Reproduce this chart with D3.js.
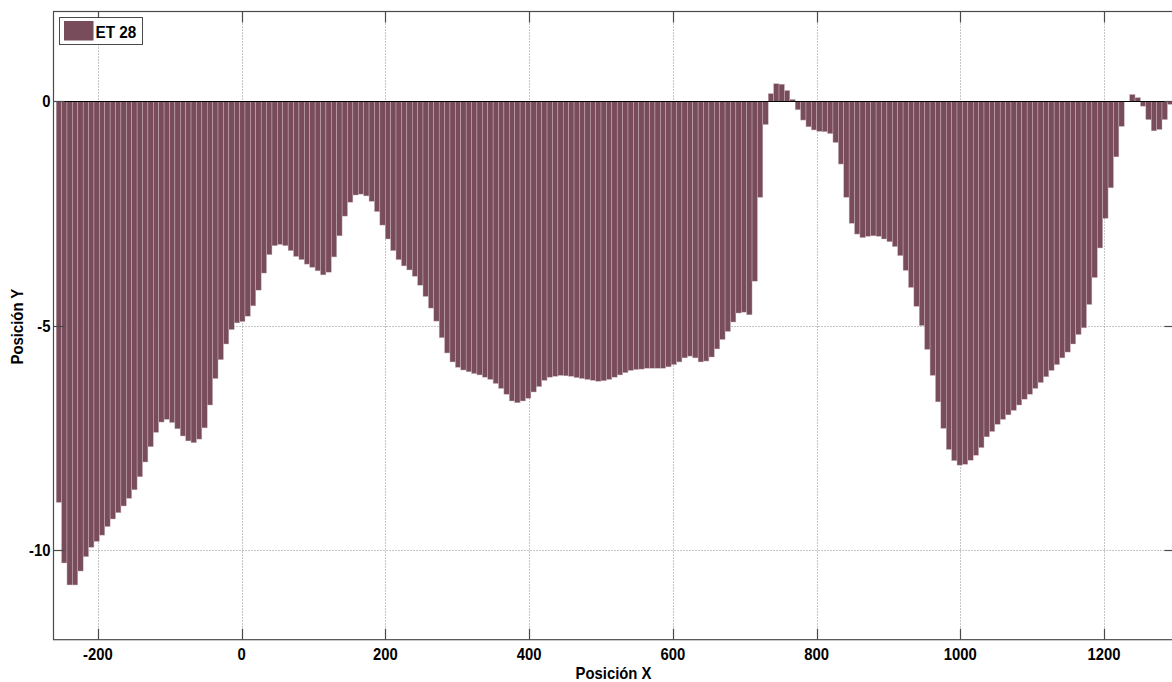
<!DOCTYPE html>
<html>
<head>
<meta charset="utf-8">
<script src="https://cdn.jsdelivr.net/npm/d3@7"></script>
<style>
  html, body { margin: 0; padding: 0; background: #fff; }
  svg { display: block; }
  text { font-family: "Liberation Sans", Arial, sans-serif; font-weight: bold; }
</style>
</head>
<body>
<svg id="chart" width="1172" height="682"></svg>
<script>
// ---- data ----
const seriesName = "ET 28";
const xStart = -254.25;      // position of first bar (Posición X)
const xStep = 7.506;         // sampling step along X
const yValues = [
  -8.94, -10.29, -10.78, -10.78, -10.47, -10.15, -9.94, -9.81, -9.67, -9.48,
  -9.31, -9.17, -9.02, -8.85, -8.66, -8.37, -8.04, -7.70, -7.38, -7.15,
  -7.09, -7.16, -7.30, -7.46, -7.57, -7.61, -7.53, -7.28, -6.77, -6.18,
  -5.76, -5.41, -5.09, -4.94, -4.91,
  -4.79, -4.56, -4.21, -3.83, -3.42, -3.22, -3.19, -3.22, -3.33, -3.46,
  -3.53, -3.63, -3.70, -3.78, -3.87, -3.81, -3.47, -3.00, -2.56, -2.25,
  -2.09, -2.07, -2.11, -2.23, -2.46, -2.76, -3.07, -3.33, -3.53, -3.67,
  -3.76, -3.90, -4.10, -4.35,
  -4.61, -4.90, -5.27, -5.61, -5.81, -5.93, -5.99, -6.03, -6.07, -6.10,
  -6.15, -6.20, -6.29, -6.40, -6.53, -6.68, -6.72, -6.68, -6.62, -6.48,
  -6.36, -6.22, -6.15, -6.13, -6.11, -6.12, -6.13, -6.16, -6.18, -6.20,
  -6.22, -6.24, -6.23, -6.20,
  -6.15, -6.10, -6.05, -6.00, -5.98, -5.97, -5.95, -5.95, -5.95, -5.95,
  -5.92, -5.87, -5.81, -5.72, -5.68, -5.72, -5.81, -5.79, -5.70, -5.52,
  -5.31, -5.13, -4.92, -4.72, -4.70, -4.76, -4.01, -2.14, -0.52, 0.17,
  0.39, 0.38, 0.24, 0.04, -0.19,
  -0.42, -0.57, -0.64, -0.67, -0.68, -0.72, -0.92, -1.40, -2.14, -2.72,
  -2.96, -3.04, -3.01, -3.00, -3.01, -3.07, -3.13, -3.24, -3.44, -3.77,
  -4.15, -4.57, -5.00, -5.53, -6.11, -6.70, -7.29, -7.76, -8.01, -8.11,
  -8.09, -8.00, -7.89, -7.72,
  -7.48, -7.36, -7.20, -7.09, -6.99, -6.89, -6.77, -6.64, -6.53, -6.40,
  -6.27, -6.14, -6.00, -5.87, -5.72, -5.59, -5.41, -5.20, -5.05, -4.53,
  -3.93, -3.27, -2.61, -1.93, -1.24, -0.56, -0.01, 0.15, 0.08, -0.11,
  -0.41, -0.66, -0.63, -0.41, -0.07
];
const xTicks = [-200, 0, 200, 400, 600, 800, 1000, 1200];
const yTicks = [-10, -5, 0];
const xDomain = [-261.75, 1299.5];
const yDomain = [-12, 2];
const xLabel = "Posición X";
const yLabel = "Posición Y";

// ---- chart ----
const svg = d3.select("#chart");
const L = 53.5, T = 11.5, R = 1175.5, B = 639.7;
const x = d3.scaleLinear().domain(xDomain).range([L, R]);
const y = d3.scaleLinear().domain(yDomain).range([B, T]);
const data = yValues.map((v, i) => ({ x: xStart + i * xStep, v }));
const barW = x(xStep) - x(0);

const barColor = "#784c5b";
const axisColor = "#4a4a4a";
const FS = 16.5, SX = 0.9;   // condensed bold labels
const place = (px, py, rot) => `translate(${px},${py})${rot ? " rotate(" + rot + ")" : ""} scale(${SX},1)`;

// grid (behind bars)
const grid = svg.append("g").attr("stroke", "#8a8a8a").attr("stroke-width", 1)
  .attr("stroke-dasharray", "1,2");
grid.selectAll("line.vx").data(xTicks).join("line")
  .attr("x1", d => Math.round(x(d)) + 0.5).attr("x2", d => Math.round(x(d)) + 0.5)
  .attr("y1", T).attr("y2", B);
grid.selectAll("line.hy").data(yTicks).join("line")
  .attr("y1", d => Math.round(y(d)) + 0.5).attr("y2", d => Math.round(y(d)) + 0.5)
  .attr("x1", L).attr("x2", R);

// bars
svg.append("g").selectAll("rect").data(data).join("rect")
  .attr("x", d => x(d.x) - barW / 2)
  .attr("width", barW)
  .attr("y", d => y(Math.max(0, d.v)))
  .attr("height", d => Math.abs(y(d.v) - y(0)))
  .attr("fill", barColor)
  .attr("stroke", "#cbb7be")
  .attr("stroke-width", 0.45);

// baseline
svg.append("line").attr("x1", L).attr("x2", R)
  .attr("y1", Math.round(y(0)) + 0.5).attr("y2", Math.round(y(0)) + 0.5)
  .attr("stroke", "#000").attr("stroke-width", 1.2);

// axes
const tickLen = 11;
const ax = svg.append("g").attr("stroke", axisColor).attr("stroke-width", 1.2).attr("fill", "none");
ax.append("rect").attr("x", L).attr("y", T).attr("width", R - L).attr("height", B - T);
xTicks.forEach(t => {
  const px = Math.round(x(t)) + 0.5;
  ax.append("line").attr("x1", px).attr("x2", px).attr("y1", B).attr("y2", B - tickLen);
  ax.append("line").attr("x1", px).attr("x2", px).attr("y1", T).attr("y2", T + tickLen);
});
yTicks.forEach(t => {
  const py = Math.round(y(t)) + 0.5;
  ax.append("line").attr("x1", L).attr("x2", L + tickLen).attr("y1", py).attr("y2", py);
  ax.append("line").attr("x1", R).attr("x2", R - tickLen).attr("y1", py).attr("y2", py);
});

// tick labels
svg.append("g").selectAll("text").data(xTicks).join("text")
  .attr("transform", d => place(x(d), 659.5))
  .attr("text-anchor", "middle").attr("font-size", FS).attr("fill", "#000")
  .text(d => d);
svg.append("g").selectAll("text").data(yTicks).join("text")
  .attr("transform", d => place(50.5, y(d) + 6))
  .attr("text-anchor", "end").attr("font-size", FS).attr("fill", "#000")
  .text(d => d);

// axis titles
svg.append("text").attr("transform", place((L + R) / 2 - 1, 678.5))
  .attr("text-anchor", "middle").attr("font-size", FS).text(xLabel);
svg.append("text").attr("transform", place(23, (T + B) / 2 + 1, -90))
  .attr("text-anchor", "middle").attr("font-size", FS).text(yLabel);

// legend
const lg = svg.append("g");
lg.append("rect").attr("x", 59.5).attr("y", 17.5).attr("width", 83).attr("height", 27)
  .attr("fill", "#fff").attr("stroke", axisColor).attr("stroke-width", 1);
lg.append("rect").attr("x", 64).attr("y", 21).attr("width", 29.5).attr("height", 19.5)
  .attr("fill", barColor);
lg.append("text").attr("transform", place(95.5, 38)).attr("font-size", FS + 0.5).text(seriesName);
</script>
</body>
</html>
